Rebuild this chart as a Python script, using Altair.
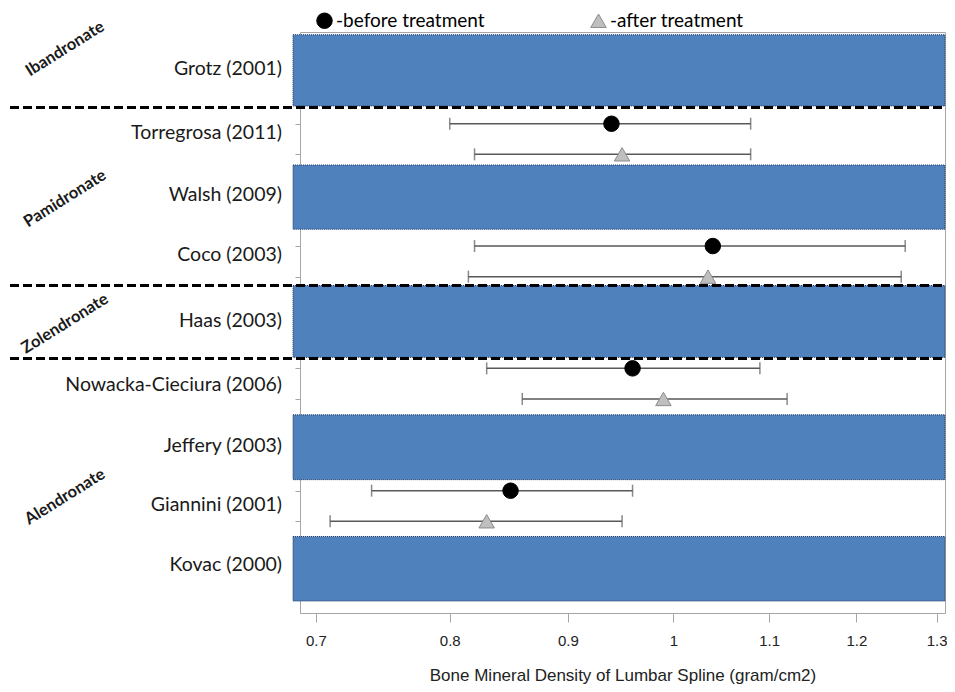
import altair as alt
import pandas as pd

# ---- data ----
studies = ["Grotz (2001)", "Torregrosa (2011)", "Walsh (2009)", "Coco (2003)",
           "Haas (2003)", "Nowacka-Cieciura (2006)", "Jeffery (2003)",
           "Giannini (2001)", "Kovac (2000)"]
study_slot = [1.21, 3.29, 5.33, 7.30, 9.46, 11.53, 13.55, 15.47, 17.43]

band_studies = ["Grotz (2001)", "Walsh (2009)", "Haas (2003)", "Jeffery (2003)", "Kovac (2000)"]
band_top = [0.09, 4.35, 8.29, 12.52, 16.50]
band_bottom = [2.42, 6.45, 10.64, 14.64, 18.61]

drugs = ["Ibandronate", "Pamidronate", "Zolendronate", "Alendronate"]
drug_slot = [0.55, 5.45, 9.54, 15.20]

separator_slot = [2.47, 8.29, 10.68]

bmd_study = ["Torregrosa (2011)", "Torregrosa (2011)", "Coco (2003)", "Coco (2003)",
             "Nowacka-Cieciura (2006)", "Nowacka-Cieciura (2006)",
             "Giannini (2001)", "Giannini (2001)"]
bmd_series = ["-before treatment", "-after treatment"] * 4
bmd_mean = [0.94, 0.95, 1.04, 1.035, 0.96, 0.99, 0.85, 0.83]
bmd_low = [0.80, 0.82, 0.82, 0.815, 0.83, 0.86, 0.74, 0.71]
bmd_high = [1.08, 1.08, 1.26, 1.255, 1.09, 1.12, 0.96, 0.95]
bmd_slot = [3, 4, 7, 8, 11, 12, 15, 16]

x_ticks = [0.7, 0.8, 0.9, 1.0, 1.1, 1.2, 1.3]
y_ticks = [3, 4, 7, 8, 11, 12, 15, 16]

# ---- tables ----
study_df = pd.DataFrame({"study": studies, "slot": study_slot})
band_df = pd.DataFrame({"study": band_studies, "top": band_top, "bottom": band_bottom})
drug_df = pd.DataFrame({"drug": drugs, "slot": drug_slot})
sep_df = pd.DataFrame({"slot": separator_slot})
bmd_df = pd.DataFrame({"study": bmd_study, "series": bmd_series, "mean": bmd_mean,
                       "low": bmd_low, "high": bmd_high, "slot": bmd_slot})

W, H = 645, 581
AX_FONT = "Liberation Sans Narrow, Liberation Sans"
xscale = alt.Scale(type="log", domain=[0.689, 1.311], nice=False)
yscale = alt.Scale(domain=[0, 19], reverse=True, nice=False, zero=False)
xaxis = alt.Axis(values=x_ticks, format="~g",
                 title="Bone Mineral Density of Lumbar Spline (gram/cm2)",
                 labelFont=AX_FONT, labelFontSize=15,
                 labelColor="#222222", tickSize=9, tickColor="#a6a6a6", domain=False,
                 grid=False, labelPadding=11, titleFont=AX_FONT,
                 titleFontSize=17, titleFontWeight="normal", titleColor="#222222",
                 titlePadding=19)
yaxis = alt.Axis(values=y_ticks, labels=False, ticks=True, tickSize=5, tickColor="#a6a6a6",
                 domain=False, grid=False, title=None)

series_order = ["-before treatment", "-after treatment"]
legend = alt.Legend(title=None, orient="none", legendX=15, legendY=-21, direction="horizontal",
                    labelFont="Lato", labelFontSize=19, labelColor="black", symbolSize=240,
                    columnPadding=103, labelOffset=2, padding=0, symbolStrokeWidth=1,
                    labelLimit=400)

bands = alt.Chart(band_df).mark_rect(fill="#4f81bd", stroke="#203864", strokeDash=[1, 1],
                                     strokeWidth=1).encode(
    x=alt.value(-7), x2=alt.value(W),
    y=alt.Y("top:Q", scale=yscale, axis=yaxis), y2="bottom:Q")

seps = alt.Chart(sep_df).mark_rule(color="black", strokeWidth=3, strokeDash=[9, 4]).encode(
    x=alt.value(-290), x2=alt.value(W),
    y=alt.Y("slot:Q", scale=yscale, axis=yaxis))

bars = alt.Chart(bmd_df).mark_rule(color="#595959", strokeWidth=1.5).encode(
    x=alt.X("low:Q", scale=xscale, axis=xaxis), x2="high:Q",
    y=alt.Y("slot:Q", scale=yscale, axis=yaxis))

caps = alt.Chart(bmd_df).transform_fold(["low", "high"], as_=["end", "val"]).mark_tick(
    orient="vertical", size=12, thickness=1.5, color="#595959").encode(
    x=alt.X("val:Q", scale=xscale, axis=xaxis),
    y=alt.Y("slot:Q", scale=yscale, axis=yaxis))

points = alt.Chart(bmd_df).mark_point(filled=True, size=240, opacity=1, strokeWidth=1).encode(
    x=alt.X("mean:Q", scale=xscale, axis=xaxis),
    y=alt.Y("slot:Q", scale=yscale, axis=yaxis),
    shape=alt.Shape("series:N", scale=alt.Scale(domain=series_order, range=["circle", "triangle-up"]),
                    legend=legend),
    fill=alt.Fill("series:N", scale=alt.Scale(domain=series_order, range=["#000000", "#bfbfbf"]),
                  legend=legend),
    stroke=alt.Stroke("series:N", scale=alt.Scale(domain=series_order, range=["#000000", "#8c8c8c"]),
                      legend=legend))

labels = alt.Chart(study_df).mark_text(align="right", baseline="middle", font="Lato",
                                        fontSize=19.5, color="#1a1a1a").encode(
    x=alt.value(-18), y=alt.Y("slot:Q", scale=yscale, axis=yaxis), text="study:N")

drug_labels = alt.Chart(drug_df).mark_text(align="center", baseline="middle", font="Lato",
                                            fontSize=16.5, fontWeight="bold", angle=328,
                                            color="#1a1a1a").encode(
    x=alt.value(-235), y=alt.Y("slot:Q", scale=yscale, axis=yaxis), text="drug:N")

chart = alt.layer(bands, seps, bars, caps, points, labels, drug_labels).properties(
    width=W, height=H,
    padding={"left": 292, "top": 24, "right": 2, "bottom": 72},
    autosize=alt.AutoSizeParams(type="none"),
    background="white",
).configure_view(stroke="#a6a6a6", strokeWidth=1)

chart.save("out.html", embed_options={"renderer": "svg", "actions": False})
